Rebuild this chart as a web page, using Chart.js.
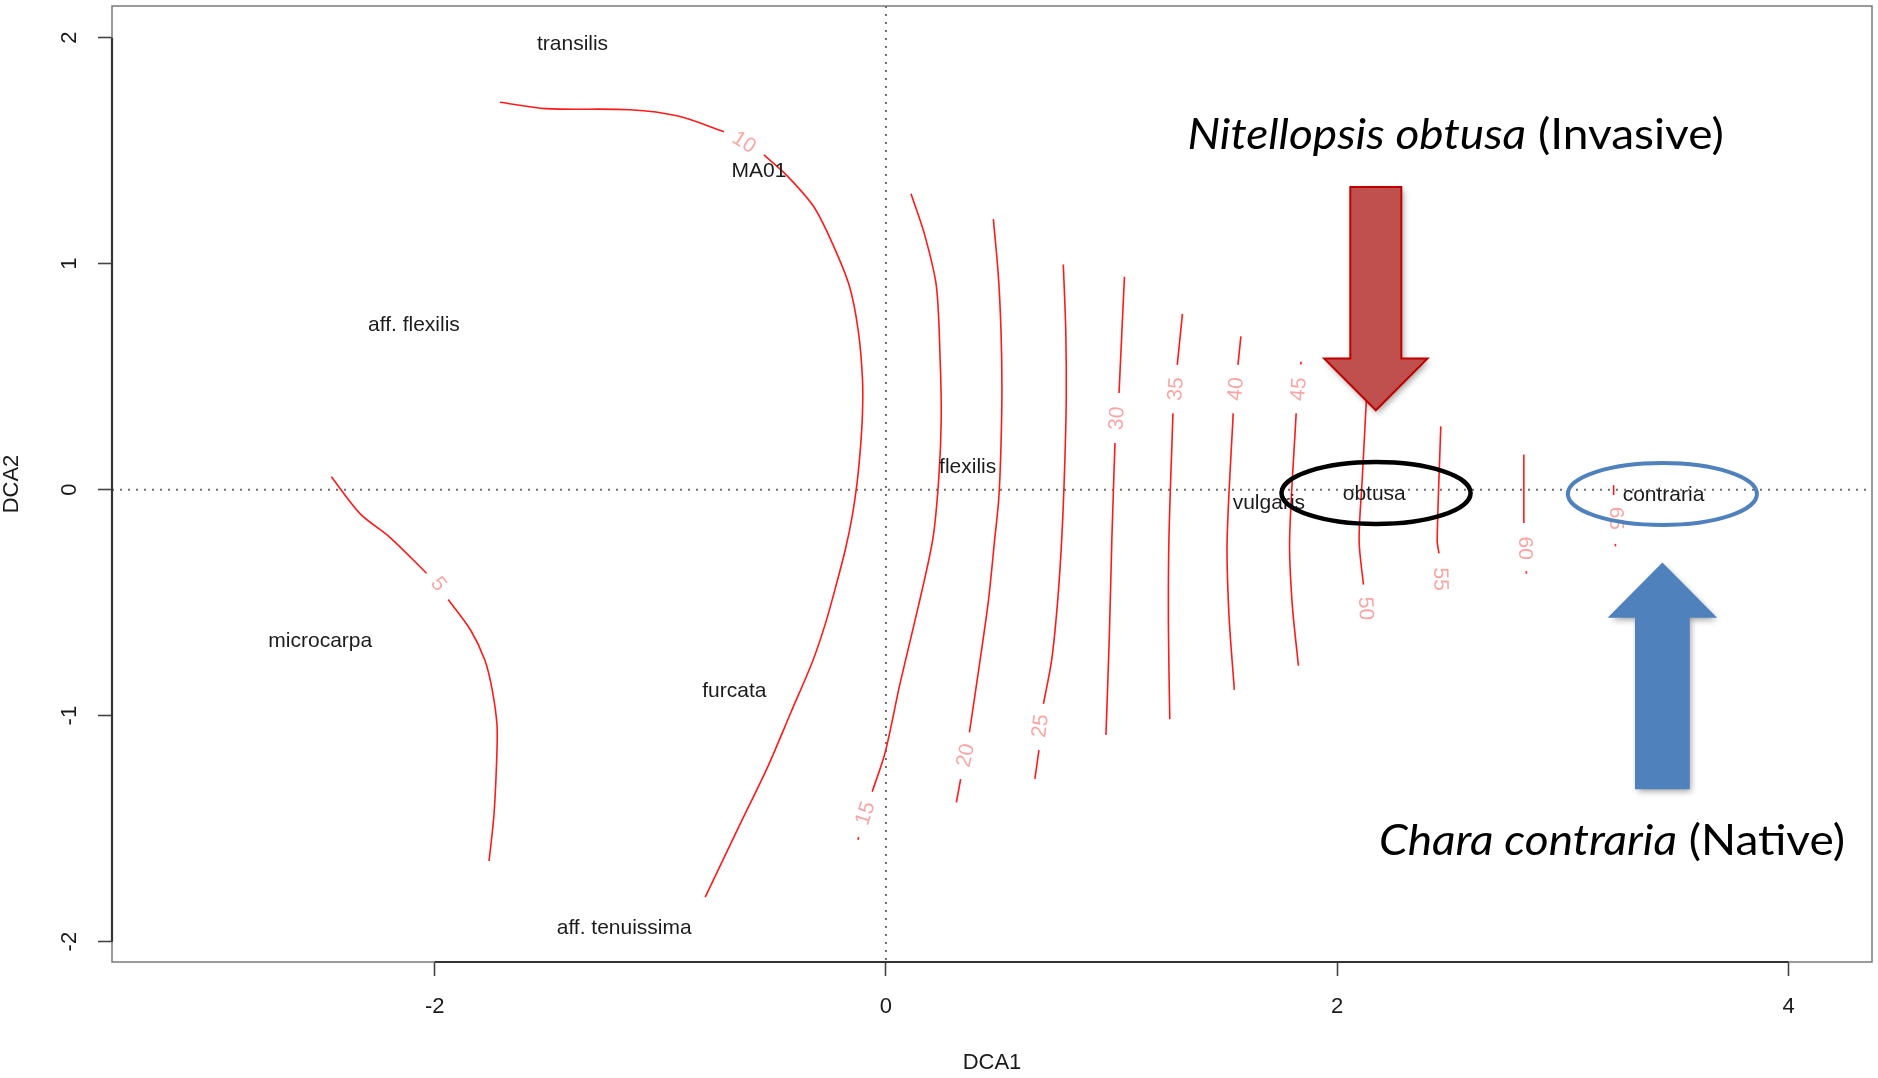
<!DOCTYPE html>
<html>
<head>
<meta charset="utf-8">
<title>DCA ordination of Characeae with ordisurf contours</title>
<script src="https://cdn.jsdelivr.net/npm/chart.js@4.4.0/dist/chart.umd.min.js"></script>
<style>
  html, body { margin: 0; padding: 0; background: #ffffff; }
  canvas { display: block; }
</style>
</head>
<body>
<canvas id="dca" width="1878" height="1078"></canvas>
<script>
// ---- axis ticks ----
const xTickValues = [-2, 0, 2, 4];
const xTickLabels = ['-2', '0', '2', '4'];
const yTickValues = [-2, -1, 0, 1, 2];
const yTickLabels = ['-2', '-1', '0', '1', '2'];

// ---- species scores (DCA1, DCA2) ----
const speciesNames = ['transilis', 'MA01', 'aff. flexilis', 'flexilis', 'vulgaris',
                      'obtusa', 'contraria', 'microcarpa', 'furcata', 'aff. tenuissima'];
const speciesDCA1 = [-1.389, -0.563, -2.092, 0.362, 1.697, 2.164, 3.446, -2.507, -0.672, -1.160];
const speciesDCA2 = [1.972, 1.407, 0.729, 0.100, -0.061, -0.022, -0.023, -0.672, -0.891, -1.942];

// ---- fitted surface contours; null breaks a contour where its label sits ----
const contourLevels = [5, 10, 15, 20, 25, 30, 35, 40, 45, 50, 55, 60, 65];
const level05 = [[-2.458, 0.057], [-2.331, -0.106], [-2.196, -0.213], [-2.036, -0.370], null,
                 [-1.940, -0.486], [-1.841, -0.621], [-1.777, -0.756], [-1.745, -0.886],
                 [-1.724, -1.038], [-1.724, -1.161], [-1.737, -1.436], [-1.759, -1.643]];
const level10 = [[-1.711, 1.714], [-1.506, 1.686], [-1.134, 1.681], [-0.921, 1.653], [-0.718, 1.584], null,
                 [-0.541, 1.481], [-0.442, 1.393], [-0.322, 1.255], [-0.243, 1.102], [-0.163, 0.904],
                 [-0.123, 0.705], [-0.104, 0.491], [-0.104, 0.338], [-0.113, 0.185], [-0.128, 0.030],
                 [-0.150, -0.120], [-0.180, -0.265], [-0.220, -0.420], [-0.269, -0.595], [-0.325, -0.759],
                 [-0.421, -0.985], [-0.522, -1.222], [-0.655, -1.498], [-0.801, -1.803]];
const level15 = [[0.111, 1.309], [0.170, 1.133], [0.223, 0.904], [0.240, 0.580], [0.245, 0.314],
                 [0.234, 0.048], [0.208, -0.217], [0.143, -0.519], [0.063, -0.855], [-0.003, -1.161],
                 [-0.061, -1.337], null, [-0.121, -1.537], [-0.124, -1.549]];
const level20 = [[0.476, 1.197], [0.498, 0.948], [0.510, 0.700], [0.514, 0.450], [0.510, 0.200],
                 [0.500, -0.040], [0.482, -0.219], [0.455, -0.484], [0.418, -0.749], [0.370, -1.074], null,
                 [0.331, -1.281], [0.312, -1.384]];
const level25 = [[0.786, 0.996], [0.797, 0.700], [0.799, 0.400], [0.792, 0.100], [0.780, -0.200],
                 [0.762, -0.480], [0.735, -0.750], [0.698, -0.948], null, [0.678, -1.153], [0.660, -1.280]];
const level30 = [[1.057, 0.942], [1.033, 0.428], null, [1.015, 0.206], [1.001, -0.225],
                 [0.990, -0.650], [0.975, -1.085]];
const level35 = [[1.314, 0.778], [1.291, 0.552], null, [1.272, 0.338], [1.254, -0.225],
                 [1.252, -0.620], [1.258, -1.016]];
const level40 = [[1.573, 0.678], [1.560, 0.552], null, [1.539, 0.338], [1.512, -0.225],
                 [1.520, -0.550], [1.544, -0.886]];
const level45 = [[1.839, 0.566], [1.839, 0.554], null, [1.818, 0.338], [1.789, -0.220],
                 [1.800, -0.500], [1.828, -0.779]];
const level50 = [[2.129, 0.392], [2.110, 0.032], [2.097, -0.225], [2.116, -0.420]];
const level55 = [[2.459, 0.280], [2.443, -0.225], [2.451, -0.282]];
const level60 = [[2.827, 0.155], [2.827, -0.148], null, [2.838, -0.361], [2.838, -0.372]];
const level65 = [[3.225, 0.020], [3.225, -0.024], null, [3.233, -0.240], [3.233, -0.251]];
const contourPaths = [level05, level10, level15, level20, level25, level30, level35,
                      level40, level45, level50, level55, level60, level65];

// contour label anchors (DCA1, DCA2) and text angle along the contour, degrees
const contourLabelDCA1 = [-1.985, -0.630, -0.090, 0.355, 0.686, 1.025, 1.286, 1.552, 1.831, 2.124, 2.456, 2.833, 3.233];
const contourLabelDCA2 = [-0.419, 1.535, -1.433, -1.176, -1.046, 0.315, 0.445, 0.445, 0.445, -0.526, -0.396, -0.259, -0.127];
const contourLabelAngle = [52, 33, -72, -78, -83, -86, -85, -85, -86, 88, 89, 90, 90];

// ---- callouts, placed in DCA units ----
const invasiveArrow = { cx: 2.171, tailY: 1.339, headBaseY: 0.580, tipY: 0.351, shaftHalf: 0.113, headHalf: 0.229,
                        fill: '#c0504d', stroke: '#c00000' };
const nativeArrow   = { cx: 3.441, tailY: -1.321, headBaseY: -0.562, tipY: -0.329, shaftHalf: 0.117, headHalf: 0.232,
                        fill: '#4f81bd', stroke: '#4f81bd' };
const rings = [
  { cx: 2.172, cy: -0.015, rx: 0.419, ry: 0.137, color: '#000000', width: 4.5 },
  { cx: 3.441, cy: -0.019, rx: 0.419, ry: 0.137, color: '#4f81bd', width: 4 }
];
const callouts = [
  { parts: [{ text: 'Nitellopsis obtusa', italic: true }, { text: ' (Invasive)', italic: false }],
    left: 1.336, right: 3.713, baseline: 1.508 },
  { parts: [{ text: 'Chara contraria', italic: true }, { text: ' (Native)', italic: false }],
    left: 2.185, right: 4.250, baseline: -1.616 }
];

const RFONT = '"Liberation Sans", Arial, Helvetica, sans-serif';
const CALLOUT_FONT = 'Lato, "Open Sans", "Noto Sans", sans-serif';

// build one line dataset per unbroken contour piece
const datasets = [];
contourPaths.forEach((path, i) => {
  let seg = [];
  const flush = () => {
    if (seg.length) {
      datasets.push({
        label: 'level ' + contourLevels[i],
        data: seg,
        showLine: true,
        borderColor: '#ff1a1a',
        borderWidth: 1.6,
        pointRadius: 0,
        pointHoverRadius: 0,
        fill: false,
        tension: 0.3
      });
    }
    seg = [];
  };
  path.forEach(p => { if (p === null) flush(); else seg.push({ x: p[0], y: p[1] }); });
  flush();
});

function drawArrow(ctx, xs, ys, a) {
  const cx = xs.getPixelForValue(a.cx);
  const sL = xs.getPixelForValue(a.cx - a.shaftHalf), sR = xs.getPixelForValue(a.cx + a.shaftHalf);
  const hL = xs.getPixelForValue(a.cx - a.headHalf), hR = xs.getPixelForValue(a.cx + a.headHalf);
  const tail = ys.getPixelForValue(a.tailY), base = ys.getPixelForValue(a.headBaseY), tip = ys.getPixelForValue(a.tipY);
  ctx.save();
  ctx.beginPath();
  ctx.moveTo(sL, tail);
  ctx.lineTo(sR, tail);
  ctx.lineTo(sR, base);
  ctx.lineTo(hR, base);
  ctx.lineTo(cx, tip);
  ctx.lineTo(hL, base);
  ctx.lineTo(sL, base);
  ctx.closePath();
  ctx.shadowColor = 'rgba(0,0,0,0.38)';
  ctx.shadowBlur = 6;
  ctx.shadowOffsetX = 2;
  ctx.shadowOffsetY = 3;
  ctx.fillStyle = a.fill;
  ctx.fill();
  ctx.shadowColor = 'transparent';
  ctx.lineJoin = 'miter';
  ctx.lineWidth = 2;
  ctx.strokeStyle = a.stroke;
  ctx.stroke();
  ctx.restore();
}

function drawCallout(ctx, xs, ys, c) {
  const size = 42;
  const left = xs.getPixelForValue(c.left), right = xs.getPixelForValue(c.right);
  const base = ys.getPixelForValue(c.baseline);
  let total = 0;
  c.parts.forEach(p => {
    ctx.font = (p.italic ? 'italic ' : '') + size + 'px ' + CALLOUT_FONT;
    p.w = ctx.measureText(p.text).width;
    total += p.w;
  });
  const sx = (right - left) / total;
  ctx.save();
  ctx.translate(left, base);
  ctx.scale(sx, 1);
  ctx.fillStyle = '#000000';
  ctx.textAlign = 'left';
  ctx.textBaseline = 'alphabetic';
  let cur = 0;
  c.parts.forEach(p => {
    ctx.font = (p.italic ? 'italic ' : '') + size + 'px ' + CALLOUT_FONT;
    ctx.fillText(p.text, cur, 0);
    cur += p.w;
  });
  ctx.restore();
}

const ordinationOverlay = {
  id: 'ordinationOverlay',
  beforeDatasetsDraw(chart) {
    const { ctx, chartArea: a, scales: { x, y } } = chart;
    ctx.save();
    ctx.beginPath();
    ctx.rect(a.left, a.top, a.right - a.left, a.bottom - a.top);
    ctx.clip();
    ctx.strokeStyle = '#6e6e6e';
    ctx.lineWidth = 2;
    ctx.setLineDash([2, 6]);
    const x0 = x.getPixelForValue(0), y0 = y.getPixelForValue(0);
    ctx.beginPath(); ctx.moveTo(x0, a.top); ctx.lineTo(x0, a.bottom); ctx.stroke();
    ctx.beginPath(); ctx.moveTo(a.left, y0); ctx.lineTo(a.right, y0); ctx.stroke();
    ctx.restore();
  },
  afterDatasetsDraw(chart) {
    const { ctx, chartArea: a, scales: { x, y } } = chart;
    ctx.save();

    // plot frame and axis lines
    ctx.strokeStyle = '#7a7a7a';
    ctx.lineWidth = 1.5;
    ctx.strokeRect(a.left, a.top, a.right - a.left, a.bottom - a.top);
    ctx.strokeStyle = '#333333';
    ctx.lineWidth = 2.2;
    ctx.beginPath();
    ctx.moveTo(x.getPixelForValue(xTickValues[0]), a.bottom);
    ctx.lineTo(x.getPixelForValue(xTickValues[xTickValues.length - 1]), a.bottom);
    ctx.moveTo(a.left, y.getPixelForValue(yTickValues[0]));
    ctx.lineTo(a.left, y.getPixelForValue(yTickValues[yTickValues.length - 1]));
    ctx.stroke();

    // tick labels
    ctx.fillStyle = '#1a1a1a';
    ctx.font = '22px ' + RFONT;
    ctx.textAlign = 'center';
    ctx.textBaseline = 'middle';
    xTickValues.forEach((v, i) => ctx.fillText(xTickLabels[i], x.getPixelForValue(v), a.bottom + 45));
    yTickValues.forEach((v, i) => {
      ctx.save();
      ctx.translate(a.left - 42, y.getPixelForValue(v));
      ctx.rotate(-Math.PI / 2);
      ctx.fillText(yTickLabels[i], 0, 0);
      ctx.restore();
    });

    // contour labels
    ctx.fillStyle = 'rgba(245, 90, 90, 0.55)';
    ctx.font = '21px ' + RFONT;
    contourLevels.forEach((lv, i) => {
      ctx.save();
      ctx.translate(x.getPixelForValue(contourLabelDCA1[i]), y.getPixelForValue(contourLabelDCA2[i]));
      ctx.rotate(contourLabelAngle[i] * Math.PI / 180);
      ctx.fillText(String(lv), 0, 0);
      ctx.restore();
    });

    // species names
    ctx.fillStyle = '#1c1c1c';
    ctx.font = '21px ' + RFONT;
    speciesNames.forEach((n, i) => {
      ctx.fillText(n, x.getPixelForValue(speciesDCA1[i]), y.getPixelForValue(speciesDCA2[i]));
    });

    // highlighted taxa
    rings.forEach(r => {
      const cx = x.getPixelForValue(r.cx), cy = y.getPixelForValue(r.cy);
      const rx = Math.abs(x.getPixelForValue(r.cx + r.rx) - cx);
      const ry = Math.abs(y.getPixelForValue(r.cy + r.ry) - cy);
      ctx.beginPath();
      ctx.ellipse(cx, cy, rx, ry, 0, 0, Math.PI * 2);
      ctx.strokeStyle = r.color;
      ctx.lineWidth = r.width;
      ctx.stroke();
    });
    drawArrow(ctx, x, y, invasiveArrow);
    drawArrow(ctx, x, y, nativeArrow);
    callouts.forEach(c => drawCallout(ctx, x, y, c));

    ctx.restore();
  }
};

const axisTitleFont = { family: RFONT, size: 22, lineHeight: 1.1 };

new Chart(document.getElementById('dca'), {
  type: 'scatter',
  data: { datasets },
  options: {
    responsive: false,
    animation: false,
    devicePixelRatio: 1,
    events: [],
    layout: { padding: { left: 0, top: 6, right: 6, bottom: 0 } },
    plugins: { legend: { display: false }, tooltip: { enabled: false } },
    scales: {
      x: {
        type: 'linear',
        min: -3.43,
        max: 4.37,
        afterBuildTicks: s => { s.ticks = xTickValues.map(v => ({ value: v })); },
        afterFit: s => { s.height = 116; },
        ticks: { display: false },
        grid: { drawOnChartArea: false, drawTicks: true, tickLength: 14, tickColor: '#444444', tickWidth: 1.6 },
        border: { display: false },
        title: { display: true, text: 'DCA1', color: '#1a1a1a', font: axisTitleFont, padding: { top: 0, bottom: 3 } }
      },
      y: {
        type: 'linear',
        min: -2.09,
        max: 2.14,
        afterBuildTicks: s => { s.ticks = yTickValues.map(v => ({ value: v })); },
        afterFit: s => { s.width = 112; },
        ticks: { display: false },
        grid: { drawOnChartArea: false, drawTicks: true, tickLength: 14, tickColor: '#444444', tickWidth: 1.6 },
        border: { display: false },
        title: { display: true, text: 'DCA2', color: '#1a1a1a', font: axisTitleFont, padding: { top: 0, bottom: 0 } }
      }
    }
  },
  plugins: [ordinationOverlay]
});
</script>
</body>
</html>
